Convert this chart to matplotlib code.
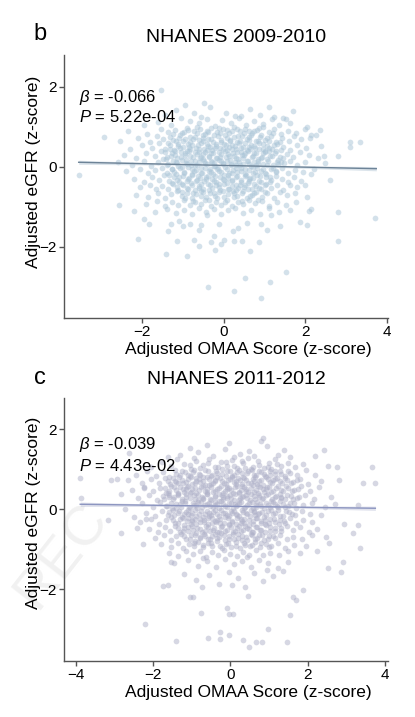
import numpy as np
import matplotlib
matplotlib.use("Agg")
import matplotlib.pyplot as plt

plt.rcParams['font.family'] = ['Liberation Sans', 'DejaVu Sans']
plt.rcParams['mathtext.fontset'] = 'custom'
plt.rcParams['mathtext.it'] = 'Liberation Sans:italic'
plt.rcParams['mathtext.rm'] = 'Liberation Sans'

# ---- panel b: NHANES 2009-2010 ----
b_title = "NHANES 2009-2010"
b_beta = "-0.066"
b_p = "5.22e-04"
b_fit_x = [-3.56, 3.74]
b_fit_y = [0.11, -0.05]

b_points = [
    # upper sparse
    (-1.53, 1.92), (-0.49, 1.60), (-2.93, 0.75), (-1.18, 1.42), (-0.72, 1.35), (-0.35, 1.48),
    (0.05, 1.33), (0.42, 1.27), (0.88, 1.30), (1.45, 1.22), (-1.45, 1.30), (-0.95, 1.55),
    (0.65, 1.45), (1.12, 1.50), (1.69, 1.39), (1.52, 1.19), (1.23, 1.23),
    (-1.62, 1.12), (-1.30, 1.05), (-1.05, 1.21), (-0.82, 1.14), (-0.60, 1.08), (-0.41, 1.19),
    (-0.22, 1.02), (-0.05, 1.16), (0.18, 1.09), (0.37, 1.22), (0.55, 1.04), (0.74, 1.13),
    (0.97, 1.07), (1.18, 1.18), (1.35, 1.03), (1.62, 1.10), (-1.95, 1.05), (0.28, 1.27),
    (-0.55, 1.25), (2.05, 1.00),
    # 0.8 .. 1.0
    (-2.35, 0.88), (-1.88, 0.82), (-1.55, 0.95), (-1.38, 0.86), (-1.20, 0.92), (-1.02, 0.84),
    (-0.90, 0.97), (-0.74, 0.88), (-0.58, 0.93), (-0.46, 0.82), (-0.31, 0.96), (-0.17, 0.87),
    (-0.02, 0.93), (0.12, 0.83), (0.26, 0.98), (0.40, 0.89), (0.53, 0.95), (0.68, 0.84),
    (0.82, 0.92), (0.95, 0.99), (1.10, 0.86), (1.24, 0.93), (1.40, 0.82), (1.58, 0.90),
    (1.77, 0.85), (1.98, 0.93), (2.25, 0.80), (2.13, 0.79), (2.35, 0.92),
    # 0.6 .. 0.8
    (-2.55, 0.65), (-2.10, 0.72), (-1.80, 0.62), (-1.65, 0.77), (-1.48, 0.68), (-1.33, 0.74),
    (-1.18, 0.63), (-1.07, 0.78), (-0.95, 0.69), (-0.83, 0.61), (-0.70, 0.75), (-0.61, 0.66),
    (-0.50, 0.79), (-0.38, 0.70), (-0.27, 0.62), (-0.15, 0.76), (-0.06, 0.67), (0.04, 0.79),
    (0.15, 0.64), (0.24, 0.73), (0.33, 0.61), (0.45, 0.77), (0.57, 0.68), (0.66, 0.79),
    (0.78, 0.63), (0.89, 0.74), (1.01, 0.66), (1.15, 0.77), (1.28, 0.62), (1.43, 0.71),
    (1.60, 0.65), (1.72, 0.77), (1.90, 0.68), (2.12, 0.72), (3.10, 0.61), (3.34, 0.61),
    (3.10, 0.50),
    # 0.4 .. 0.6
    (-2.30, 0.45), (-2.00, 0.55), (-1.75, 0.47), (-1.60, 0.58), (-1.45, 0.44), (-1.32, 0.53),
    (-1.22, 0.41), (-1.12, 0.57), (-1.00, 0.48), (-0.90, 0.40), (-0.79, 0.55), (-0.68, 0.46),
    (-0.57, 0.59), (-0.48, 0.43), (-0.39, 0.52), (-0.29, 0.41), (-0.20, 0.57), (-0.10, 0.47),
    (0.00, 0.56), (0.09, 0.42), (0.19, 0.53), (0.29, 0.45), (0.38, 0.58), (0.48, 0.49),
    (0.58, 0.41), (0.67, 0.55), (0.77, 0.46), (0.86, 0.58), (0.96, 0.43), (1.07, 0.52),
    (1.19, 0.45), (1.31, 0.57), (1.46, 0.48), (1.62, 0.42), (1.80, 0.54), (2.02, 0.47),
    (2.38, 0.52), (-0.85, 0.50), (-0.35, 0.48), (0.13, 0.50), (0.62, 0.50), (1.12, 0.40),
    # 0.2 .. 0.4
    (-2.45, 0.30), (-2.15, 0.22), (-1.90, 0.35), (-1.70, 0.26), (-1.55, 0.38), (-1.40, 0.24),
    (-1.28, 0.33), (-1.16, 0.21), (-1.05, 0.37), (-0.95, 0.28), (-0.86, 0.39), (-0.76, 0.23),
    (-0.66, 0.32), (-0.55, 0.25), (-0.45, 0.37), (-0.36, 0.27), (-0.26, 0.35), (-0.16, 0.22),
    (-0.07, 0.31), (0.03, 0.38), (0.12, 0.26), (0.22, 0.34), (0.31, 0.21), (0.41, 0.36),
    (0.50, 0.28), (0.60, 0.39), (0.70, 0.24), (0.80, 0.33), (0.91, 0.22), (1.02, 0.36),
    (1.14, 0.27), (1.27, 0.38), (1.39, 0.23), (1.55, 0.32), (1.70, 0.25), (1.88, 0.37),
    (2.10, 0.28), (2.30, 0.21), (2.45, 0.27), (2.81, 0.27), (-0.60, 0.36), (-0.10, 0.24),
    (0.45, 0.30), (0.95, 0.35), (-1.20, 0.30),
    # 0.0 .. 0.2
    (-3.56, -0.21), (-2.60, 0.12), (-2.25, 0.05), (-1.95, 0.15), (-1.78, 0.02), (-1.62, 0.11),
    (-1.50, 0.18), (-1.36, 0.06), (-1.24, 0.14), (-1.13, 0.01), (-1.02, 0.17), (-0.92, 0.08),
    (-0.81, 0.15), (-0.71, 0.03), (-0.62, 0.12), (-0.52, 0.19), (-0.42, 0.06), (-0.32, 0.14),
    (-0.22, 0.02), (-0.12, 0.17), (-0.03, 0.09), (0.07, 0.15), (0.17, 0.04), (0.27, 0.12),
    (0.36, 0.18), (0.46, 0.07), (0.56, 0.15), (0.66, 0.02), (0.75, 0.11), (0.85, 0.18),
    (0.96, 0.06), (1.08, 0.13), (1.20, 0.03), (1.33, 0.16), (1.48, 0.08), (1.63, 0.14),
    (1.80, 0.04), (1.98, 0.11), (2.20, -0.05), (2.48, 0.09), (-0.80, 0.05), (-0.25, 0.10),
    (0.30, 0.03), (0.80, 0.05), (1.40, 0.12),
    # -0.2 .. 0.0
    (-2.40, -0.12), (-2.05, -0.06), (-1.85, -0.17), (-1.68, -0.09), (-1.52, -0.03), (-1.40, -0.15),
    (-1.28, -0.07), (-1.18, -0.19), (-1.07, -0.04), (-0.97, -0.13), (-0.87, -0.02), (-0.77, -0.18),
    (-0.67, -0.08), (-0.57, -0.15), (-0.47, -0.03), (-0.37, -0.11), (-0.27, -0.19), (-0.17, -0.06),
    (-0.07, -0.14), (0.02, -0.02), (0.12, -0.17), (0.22, -0.08), (0.32, -0.14), (0.42, -0.04),
    (0.52, -0.18), (0.62, -0.09), (0.72, -0.15), (0.82, -0.03), (0.92, -0.12), (1.04, -0.19),
    (1.16, -0.07), (1.29, -0.14), (1.43, -0.04), (1.58, -0.16), (1.75, -0.08), (1.95, -0.13),
    (2.15, -0.18),
    # -0.4 .. -0.2
    (-2.20, -0.30), (-1.95, -0.38), (-1.76, -0.25), (-1.60, -0.33), (-1.46, -0.22), (-1.34, -0.36),
    (-1.22, -0.27), (-1.10, -0.39), (-0.99, -0.24), (-0.89, -0.32), (-0.79, -0.21), (-0.69, -0.37),
    (-0.59, -0.28), (-0.49, -0.35), (-0.39, -0.23), (-0.29, -0.31), (-0.19, -0.38), (-0.09, -0.26),
    (0.01, -0.34), (0.11, -0.22), (0.21, -0.37), (0.31, -0.27), (0.41, -0.33), (0.51, -0.24),
    (0.61, -0.36), (0.71, -0.29), (0.81, -0.22), (0.92, -0.38), (1.03, -0.27), (1.15, -0.34),
    (1.28, -0.23), (1.42, -0.31), (1.57, -0.38), (1.72, -0.26), (1.90, -0.35), (2.60, -0.33),
    # -0.6 .. -0.4
    (-2.05, -0.52), (-1.82, -0.45), (-1.66, -0.57), (-1.52, -0.48), (-1.38, -0.55), (-1.25, -0.43),
    (-1.13, -0.58), (-1.01, -0.47), (-0.90, -0.54), (-0.80, -0.42), (-0.70, -0.59), (-0.60, -0.49),
    (-0.50, -0.56), (-0.40, -0.44), (-0.30, -0.53), (-0.20, -0.46), (-0.10, -0.58), (0.00, -0.43),
    (0.10, -0.55), (0.20, -0.48), (0.30, -0.59), (0.40, -0.45), (0.50, -0.52), (0.60, -0.42),
    (0.70, -0.57), (0.80, -0.48), (0.91, -0.55), (1.03, -0.44), (1.16, -0.53), (1.30, -0.47),
    (1.46, -0.58), (1.62, -0.45), (1.80, -0.52), (2.00, -0.47),
    # -0.8 .. -0.6
    (-2.15, -0.70), (-1.85, -0.75), (-1.62, -0.66), (-1.45, -0.78), (-1.30, -0.68), (-1.16, -0.62),
    (-1.03, -0.74), (-0.91, -0.65), (-0.79, -0.79), (-0.67, -0.69), (-0.55, -0.62), (-0.44, -0.76),
    (-0.33, -0.67), (-0.22, -0.73), (-0.11, -0.63), (0.00, -0.77), (0.11, -0.68), (0.22, -0.61),
    (0.33, -0.74), (0.44, -0.66), (0.56, -0.79), (0.68, -0.70), (0.80, -0.63), (0.93, -0.75),
    (1.07, -0.67), (1.22, -0.78), (1.38, -0.64), (1.55, -0.72), (1.75, -0.66), (2.05, -0.77),
    # -1.0 .. -0.8
    (-2.58, -0.96), (-1.90, -0.92), (-1.65, -0.85), (-1.45, -0.97), (-1.28, -0.88), (-1.12, -0.95),
    (-0.97, -0.83), (-0.84, -0.96), (-0.70, -0.87), (-0.57, -0.93), (-0.45, -0.82), (-0.32, -0.98),
    (-0.19, -0.89), (-0.06, -0.95), (0.07, -0.84), (0.20, -0.97), (0.34, -0.88), (0.48, -0.94),
    (0.62, -0.83), (0.77, -0.91), (0.93, -0.86), (1.10, -0.98), (1.30, -0.89), (1.52, -0.95),
    (1.78, -0.87),
    # -1.2 .. -1.0
    (-2.21, -1.11), (-1.70, -1.12), (-1.40, -1.05), (-1.18, -1.16), (-0.98, -1.08), (-0.78, -1.19),
    (-0.60, -1.03), (-0.44, -1.14), (-0.25, -1.06), (-0.08, -1.17), (0.10, -1.09), (0.28, -1.02),
    (0.46, -1.15), (0.66, -1.07), (0.88, -1.18), (1.10, -1.04), (1.35, -1.13), (1.62, -1.08),
    (2.10, -1.11), (2.15, -1.06), (2.80, -1.12), (1.16, -1.21), (-0.41, -1.21),
    # lower tail
    (3.70, -1.27), (-1.95, -1.31), (-1.84, -1.43), (-1.36, -1.60), (-1.29, -1.42), (-1.09, -1.35),
    (-1.00, -1.47), (-0.84, -1.43), (-0.62, -1.58), (-0.55, -1.45), (-0.12, -1.42), (0.22, -1.60),
    (0.34, -1.52), (0.57, -1.40), (0.90, -1.42), (1.06, -1.57), (1.39, -1.48), (1.86, -1.38),
    (2.05, -1.45), (-2.10, -1.81), (-1.16, -1.85), (-0.72, -1.83), (-0.60, -1.98), (-0.31, -1.87),
    (-0.25, -1.72), (-0.21, -2.07), (-0.06, -1.92), (0.00, -1.82), (0.26, -1.86), (0.44, -1.85),
    (0.64, -2.11), (0.86, -1.88), (2.80, -1.86), (-1.42, -2.19), (-0.90, -2.23),
    (0.51, -2.77), (1.52, -2.63), (-0.39, -3.00), (0.25, -3.10), (0.90, -3.29), (1.14, -2.89),
]

# dense middle of the b cloud
b_core = [
    (-0.88, 0.91), (-0.66, 0.99), (-0.41, 0.90), (-0.12, 0.97), (0.08, 0.91), (0.33, 0.94),
    (0.61, 0.90), (0.86, 0.97),
    (-1.25, 0.82), (-1.10, 0.71), (-0.97, 0.86), (-0.84, 0.75), (-0.65, 0.83), (-0.52, 0.72),
    (-0.40, 0.87), (-0.24, 0.78), (-0.09, 0.85), (0.08, 0.72), (0.20, 0.88), (0.35, 0.76),
    (0.50, 0.84), (0.61, 0.73), (0.75, 0.89), (0.92, 0.80), (1.05, 0.71), (1.20, 0.85),
    (-1.38, 0.60), (-1.25, 0.66), (-1.13, 0.52), (-1.01, 0.63), (-0.88, 0.56), (-0.75, 0.68),
    (-0.63, 0.53), (-0.52, 0.64), (-0.42, 0.57), (-0.31, 0.68), (-0.20, 0.51), (-0.08, 0.62),
    (0.05, 0.55), (0.16, 0.67), (0.27, 0.52), (0.39, 0.64), (0.52, 0.58), (0.62, 0.66),
    (0.73, 0.52), (0.84, 0.63), (0.96, 0.56), (1.10, 0.64), (1.24, 0.53), (1.38, 0.62),
    (-1.45, 0.36), (-1.32, 0.45), (-1.20, 0.38), (-1.08, 0.47), (-0.96, 0.33), (-0.83, 0.44),
    (-0.71, 0.36), (-0.60, 0.45), (-0.50, 0.31), (-0.41, 0.42), (-0.31, 0.34), (-0.21, 0.46),
    (-0.12, 0.36), (-0.01, 0.44), (0.10, 0.32), (0.20, 0.43), (0.32, 0.37), (0.43, 0.46),
    (0.53, 0.35), (0.65, 0.44), (0.75, 0.33), (0.87, 0.45), (1.00, 0.38), (1.12, 0.47),
    (1.25, 0.33), (1.40, 0.42),
    (-1.42, 0.19), (-1.30, 0.26), (-1.18, 0.12), (-1.06, 0.23), (-0.93, 0.16), (-0.82, 0.27),
    (-0.70, 0.13), (-0.58, 0.22), (-0.48, 0.14), (-0.37, 0.25), (-0.28, 0.11), (-0.18, 0.21),
    (-0.06, 0.13), (0.05, 0.24), (0.16, 0.17), (0.26, 0.26), (0.38, 0.12), (0.48, 0.22),
    (0.59, 0.14), (0.71, 0.26), (0.83, 0.13), (0.94, 0.24), (1.06, 0.18), (1.18, 0.26),
    (1.30, 0.12), (1.44, 0.21),
    (-1.40, 0.03), (-1.26, -0.05), (-1.14, 0.08), (-1.02, -0.02), (-0.90, 0.06), (-0.78, -0.06),
    (-0.66, 0.04), (-0.55, -0.03), (-0.45, 0.08), (-0.35, -0.07), (-0.24, 0.02), (-0.14, -0.04),
    (-0.03, 0.06), (0.08, -0.05), (0.18, 0.07), (0.29, -0.03), (0.40, 0.05), (0.51, -0.07),
    (0.61, 0.06), (0.72, -0.02), (0.84, 0.07), (0.95, -0.05), (1.07, 0.03), (1.20, -0.04),
    (1.33, 0.06),
    (-1.35, -0.22), (-1.22, -0.13), (-1.10, -0.26), (-0.98, -0.17), (-0.86, -0.28), (-0.74, -0.12),
    (-0.63, -0.23), (-0.53, -0.16), (-0.43, -0.27), (-0.32, -0.14), (-0.22, -0.24), (-0.11, -0.12),
    (0.00, -0.22), (0.11, -0.29), (0.21, -0.15), (0.32, -0.24), (0.43, -0.11), (0.54, -0.22),
    (0.65, -0.29), (0.76, -0.13), (0.88, -0.24), (1.00, -0.16), (1.13, -0.27), (1.27, -0.12),
    (-1.28, -0.42), (-1.15, -0.33), (-1.02, -0.44), (-0.90, -0.37), (-0.78, -0.47), (-0.66, -0.34),
    (-0.55, -0.43), (-0.44, -0.32), (-0.34, -0.46), (-0.23, -0.35), (-0.13, -0.44), (-0.02, -0.31),
    (0.09, -0.42), (0.19, -0.33), (0.30, -0.45), (0.41, -0.38), (0.52, -0.47), (0.63, -0.32),
    (0.75, -0.43), (0.87, -0.35), (1.00, -0.46), (1.14, -0.38),
    (-1.15, -0.52), (-1.02, -0.63), (-0.88, -0.57), (-0.75, -0.66), (-0.62, -0.54), (-0.50, -0.64),
    (-0.37, -0.58), (-0.25, -0.67), (-0.13, -0.52), (-0.01, -0.61), (0.12, -0.55), (0.24, -0.66),
    (0.36, -0.53), (0.48, -0.62), (0.60, -0.56), (0.73, -0.67), (0.86, -0.54), (1.00, -0.63),
    (-0.95, -0.78), (-0.75, -0.86), (-0.55, -0.73), (-0.36, -0.84), (-0.16, -0.78), (0.04, -0.88),
    (0.24, -0.76), (0.44, -0.85), (0.64, -0.74), (0.84, -0.82),
]

# ---- panel c: NHANES 2011-2012 ----
c_title = "NHANES 2011-2012"
c_beta = "-0.039"
c_p = "4.43e-02"
c_fit_x = [-3.89, 3.75]
c_fit_y = [0.12, 0.02]

c_points = [
    # upper sparse
    (-3.89, 0.78), (-3.10, 0.73), (-2.95, 0.75), (-2.64, 1.39), (-1.04, 1.52), (-0.04, 1.64),
    (0.84, 1.77), (2.18, 1.33), (2.41, 1.48), (2.53, 1.08), (2.75, 1.06), (2.82, 0.73),
    (3.66, 1.06), (3.75, 0.66), (3.43, 0.66),
    (-1.30, 1.35), (-0.85, 1.42), (-0.45, 1.33), (-0.15, 1.50), (0.25, 1.38), (0.48, 1.46),
    (0.62, 1.33), (0.95, 1.58), (1.22, 1.36), (1.55, 1.30), (-0.60, 1.60), (0.10, 1.31),
    (1.38, 1.48), (-1.62, 1.31), (0.78, 1.70),
    # 1.0 .. 1.3
    (-2.05, 1.05), (-1.78, 1.18), (-1.55, 1.08), (-1.38, 1.24), (-1.20, 1.12), (-1.02, 1.01),
    (-0.88, 1.20), (-0.72, 1.09), (-0.55, 1.26), (-0.40, 1.04), (-0.25, 1.17), (-0.10, 1.08),
    (0.05, 1.23), (0.18, 1.02), (0.32, 1.14), (0.45, 1.27), (0.58, 1.06), (0.72, 1.19),
    (0.86, 1.03), (1.00, 1.15), (1.15, 1.25), (1.30, 1.07), (1.48, 1.16), (1.68, 1.04),
    (1.88, 1.13), (-0.95, 1.28), (0.38, 1.03), (1.05, 1.00),
    # 0.8 .. 1.0
    (-2.45, 0.85), (-2.15, 0.95), (-1.92, 0.83), (-1.74, 0.92), (-1.58, 0.81), (-1.44, 0.97),
    (-1.31, 0.86), (-1.18, 0.93), (-1.06, 0.82), (-0.94, 0.98), (-0.82, 0.88), (-0.70, 0.81),
    (-0.59, 0.95), (-0.47, 0.84), (-0.35, 0.91), (-0.23, 0.99), (-0.12, 0.83), (-0.01, 0.94),
    (0.10, 0.86), (0.22, 0.97), (0.33, 0.81), (0.44, 0.90), (0.56, 0.98), (0.67, 0.84),
    (0.78, 0.93), (0.90, 0.82), (1.02, 0.96), (1.14, 0.87), (1.27, 0.94), (1.40, 0.83),
    (1.55, 0.91), (1.72, 0.86), (1.95, 0.97), (2.20, 0.84),
    # 0.6 .. 0.8
    (-2.65, 0.72), (-2.30, 0.64), (-2.05, 0.76), (-1.85, 0.66), (-1.70, 0.78), (-1.56, 0.63),
    (-1.44, 0.71), (-1.33, 0.79), (-1.22, 0.65), (-1.11, 0.74), (-1.00, 0.62), (-0.89, 0.77),
    (-0.78, 0.68), (-0.67, 0.61), (-0.56, 0.75), (-0.45, 0.66), (-0.34, 0.79), (-0.23, 0.70),
    (-0.12, 0.62), (-0.02, 0.76), (0.09, 0.67), (0.19, 0.78), (0.30, 0.63), (0.41, 0.72),
    (0.52, 0.65), (0.63, 0.79), (0.74, 0.69), (0.85, 0.61), (0.96, 0.75), (1.08, 0.66),
    (1.20, 0.78), (1.33, 0.64), (1.47, 0.73), (1.62, 0.67), (1.80, 0.76), (2.00, 0.63),
    (2.35, 0.70), (-0.90, 0.70), (-0.40, 0.72), (0.15, 0.71), (0.60, 0.70), (1.10, 0.72),
    (-1.40, 0.68),
    # 0.4 .. 0.6
    (-2.83, 0.37), (-2.23, 0.52), (-2.55, 0.48), (-2.25, 0.56), (-2.00, 0.44), (-1.82, 0.53),
    (-1.67, 0.41), (-1.54, 0.57), (-1.42, 0.47), (-1.31, 0.55), (-1.20, 0.43), (-1.09, 0.58),
    (-0.99, 0.49), (-0.88, 0.41), (-0.77, 0.56), (-0.67, 0.46), (-0.56, 0.59), (-0.46, 0.42),
    (-0.35, 0.51), (-0.25, 0.58), (-0.14, 0.44), (-0.04, 0.53), (0.06, 0.41), (0.16, 0.57),
    (0.26, 0.47), (0.36, 0.55), (0.46, 0.43), (0.57, 0.59), (0.67, 0.48), (0.77, 0.56),
    (0.88, 0.42), (0.99, 0.54), (1.10, 0.46), (1.22, 0.58), (1.35, 0.44), (1.49, 0.52),
    (1.64, 0.47), (1.82, 0.57), (2.05, 0.45), (2.30, 0.54), (-0.60, 0.50), (-0.10, 0.49),
    (0.40, 0.50), (0.92, 0.50), (-1.15, 0.51),
    # 0.2 .. 0.4
    (-3.87, 0.27), (-2.40, 0.27), (-2.12, 0.36), (-1.90, 0.23), (-1.75, 0.32), (-1.61, 0.39),
    (-1.49, 0.25), (-1.37, 0.34), (-1.26, 0.21), (-1.15, 0.37), (-1.04, 0.28), (-0.94, 0.35),
    (-0.83, 0.22), (-0.73, 0.31), (-0.62, 0.38), (-0.52, 0.24), (-0.41, 0.33), (-0.31, 0.21),
    (-0.21, 0.36), (-0.10, 0.27), (0.00, 0.34), (0.10, 0.22), (0.21, 0.39), (0.31, 0.29),
    (0.41, 0.36), (0.51, 0.23), (0.62, 0.32), (0.72, 0.39), (0.82, 0.26), (0.93, 0.35),
    (1.04, 0.21), (1.16, 0.31), (1.29, 0.38), (1.42, 0.24), (1.57, 0.33), (1.73, 0.27),
    (1.92, 0.36), (2.15, 0.25), (2.60, 0.30), (-0.70, 0.25), (-0.20, 0.30), (0.25, 0.27),
    (0.75, 0.30), (1.30, 0.29), (-1.60, 0.30),
    # 0.0 .. 0.2
    (-2.73, 0.00), (-2.30, 0.14), (-2.00, 0.05), (-1.82, 0.17), (-1.66, 0.08), (-1.53, 0.15),
    (-1.41, 0.02), (-1.30, 0.12), (-1.19, 0.19), (-1.08, 0.06), (-0.97, 0.14), (-0.87, 0.03),
    (-0.76, 0.18), (-0.66, 0.09), (-0.55, 0.16), (-0.45, 0.04), (-0.34, 0.13), (-0.24, 0.19),
    (-0.13, 0.07), (-0.03, 0.15), (0.07, 0.02), (0.18, 0.11), (0.28, 0.18), (0.38, 0.06),
    (0.49, 0.14), (0.59, 0.03), (0.69, 0.17), (0.80, 0.08), (0.91, 0.15), (1.02, 0.04),
    (1.14, 0.12), (1.27, 0.19), (1.40, 0.06), (1.55, 0.14), (1.70, 0.03), (1.88, 0.11),
    (2.10, 0.16), (2.45, 0.05), (2.70, 0.12), (3.30, 0.10), (-0.90, 0.10), (-0.40, 0.10),
    (0.12, 0.13), (0.65, 0.10), (1.20, 0.08),
    # -0.2 .. 0.0
    (-3.16, -0.28), (-2.49, -0.19), (-2.20, -0.26), (-2.20, -0.10), (-1.95, -0.18), (-1.77, -0.05),
    (-1.62, -0.14), (-1.49, -0.02), (-1.37, -0.11), (-1.25, -0.19), (-1.14, -0.07), (-1.03, -0.15),
    (-0.92, -0.03), (-0.82, -0.12), (-0.71, -0.19), (-0.61, -0.06), (-0.50, -0.14), (-0.40, -0.02),
    (-0.29, -0.17), (-0.19, -0.09), (-0.08, -0.15), (0.02, -0.04), (0.13, -0.12), (0.23, -0.18),
    (0.33, -0.07), (0.44, -0.13), (0.54, -0.02), (0.64, -0.16), (0.75, -0.09), (0.86, -0.19),
    (0.97, -0.05), (1.09, -0.13), (1.22, -0.03), (1.36, -0.17), (1.51, -0.08), (1.67, -0.14),
    (1.85, -0.04), (2.05, -0.12), (2.35, -0.16), (-0.55, -0.09), (0.05, -0.10), (0.60, -0.08),
    (-1.10, -0.12),
    # -0.4 .. -0.2
    (-2.42, -0.48), (-2.35, -0.32), (-2.05, -0.25), (-1.84, -0.37), (-1.68, -0.28), (-1.55, -0.21),
    (-1.43, -0.34), (-1.32, -0.26), (-1.21, -0.39), (-1.10, -0.23), (-0.99, -0.31), (-0.89, -0.38),
    (-0.78, -0.24), (-0.68, -0.33), (-0.57, -0.22), (-0.47, -0.36), (-0.36, -0.27), (-0.26, -0.34),
    (-0.15, -0.21), (-0.05, -0.38), (0.05, -0.29), (0.16, -0.23), (0.26, -0.35), (0.36, -0.26),
    (0.47, -0.39), (0.57, -0.31), (0.67, -0.22), (0.78, -0.36), (0.89, -0.28), (1.00, -0.34),
    (1.12, -0.24), (1.25, -0.37), (1.39, -0.29), (1.54, -0.22), (1.70, -0.35), (1.88, -0.27),
    (2.10, -0.33), (2.95, -0.38), (3.30, -0.40), (-0.40, -0.30), (0.30, -0.31), (-1.00, -0.27),
    # -0.6 .. -0.4
    (-2.83, -0.61), (-2.10, -0.50), (-1.88, -0.58), (-1.70, -0.45), (-1.56, -0.54), (-1.44, -0.42),
    (-1.32, -0.57), (-1.21, -0.48), (-1.10, -0.55), (-0.99, -0.43), (-0.88, -0.59), (-0.78, -0.49),
    (-0.67, -0.56), (-0.57, -0.44), (-0.46, -0.52), (-0.36, -0.58), (-0.25, -0.46), (-0.15, -0.54),
    (-0.05, -0.41), (0.06, -0.57), (0.16, -0.47), (0.27, -0.55), (0.37, -0.43), (0.48, -0.51),
    (0.58, -0.58), (0.69, -0.45), (0.80, -0.53), (0.91, -0.41), (1.03, -0.56), (1.16, -0.47),
    (1.30, -0.55), (1.45, -0.43), (1.62, -0.52), (1.80, -0.46), (2.02, -0.57), (2.25, -0.49),
    (3.17, -0.61), (2.48, -0.70),
    # -0.8 .. -0.6
    (-1.95, -0.72), (-1.72, -0.65), (-1.55, -0.77), (-1.40, -0.68), (-1.27, -0.62), (-1.15, -0.75),
    (-1.03, -0.66), (-0.91, -0.79), (-0.80, -0.69), (-0.69, -0.63), (-0.58, -0.76), (-0.47, -0.67),
    (-0.36, -0.73), (-0.25, -0.61), (-0.14, -0.78), (-0.03, -0.68), (0.08, -0.74), (0.19, -0.63),
    (0.30, -0.77), (0.41, -0.69), (0.52, -0.62), (0.63, -0.75), (0.75, -0.66), (0.87, -0.78),
    (1.00, -0.68), (1.14, -0.73), (1.29, -0.64), (1.45, -0.76), (1.63, -0.69), (1.85, -0.74),
    (2.10, -0.66),
    # -1.0 .. -0.8
    (-2.27, -0.88), (-1.80, -0.88), (-1.55, -0.95), (-1.37, -0.84), (-1.22, -0.97), (-1.08, -0.87),
    (-0.95, -0.93), (-0.83, -0.82), (-0.71, -0.96), (-0.59, -0.86), (-0.47, -0.92), (-0.35, -0.81),
    (-0.23, -0.98), (-0.11, -0.88), (0.01, -0.94), (0.13, -0.83), (0.25, -0.97), (0.37, -0.89),
    (0.50, -0.93), (0.63, -0.82), (0.77, -0.95), (0.91, -0.87), (1.06, -0.92), (1.23, -0.84),
    (1.42, -0.97), (1.65, -0.89), (1.95, -0.93), (2.56, -0.86), (3.35, -0.97), (2.25, -1.04),
    # -1.2 .. -1.0
    (-1.60, -1.10), (-1.35, -1.17), (-1.15, -1.04), (-0.97, -1.13), (-0.80, -1.06), (-0.64, -1.19),
    (-0.48, -1.08), (-0.32, -1.15), (-0.16, -1.03), (0.00, -1.12), (0.16, -1.18), (0.32, -1.07),
    (0.48, -1.14), (0.65, -1.02), (0.83, -1.16), (1.02, -1.09), (1.25, -1.14), (1.50, -1.05),
    (1.80, -1.11),
    # -1.5 .. -1.2
    (-1.54, -1.32), (-1.45, -1.35), (-1.10, -1.28), (-0.85, -1.42), (-0.60, -1.31), (-0.38, -1.46),
    (-0.15, -1.25), (0.08, -1.38), (0.30, -1.30), (0.52, -1.44), (0.75, -1.27), (0.98, -1.36),
    (1.22, -1.48), (1.48, -1.33), (-0.70, -1.22), (0.42, -1.21), (2.52, -1.48), (2.87, -1.57),
    (2.91, -1.32),
    # lower tail
    (-1.20, -1.62), (-0.90, -1.78), (-0.55, -1.65), (-0.30, -1.88), (-0.05, -1.58), (0.20, -1.72),
    (0.38, -1.95), (0.60, -1.60), (0.85, -1.80), (1.10, -1.68), (1.35, -1.55), (-0.75, -1.95),
    (0.05, -1.90), (0.95, -1.52), (-1.75, -1.93), (-1.62, -1.90), (1.88, -2.03), (1.62, -2.20),
    (1.70, -2.27), (-1.06, -2.21), (-0.98, -2.21), (0.45, -2.18), (-0.76, -2.59), (-0.09, -2.48),
    (-0.05, -2.62), (0.06, -2.62), (1.53, -2.65), (-2.21, -2.88), (-1.42, -3.29), (-0.59, -3.23),
    (-0.28, -3.26), (-0.26, -3.07), (-0.03, -3.15), (0.32, -3.28), (0.49, -3.46), (0.67, -3.32),
    (0.82, -3.32), (0.98, -3.01), (1.46, -3.33),
]

# dense middle of the c cloud
c_core = [
    (-1.05, 1.10), (-0.80, 1.03), (-0.58, 1.14), (-0.33, 1.06), (-0.12, 1.17), (0.10, 1.08),
    (0.30, 1.19), (0.52, 1.01), (0.75, 1.10), (0.98, 1.06), (1.20, 1.12),
    (-1.40, 0.88), (-1.25, 0.95), (-1.10, 0.84), (-0.96, 0.92), (-0.80, 0.86), (-0.65, 0.97),
    (-0.50, 0.83), (-0.37, 0.94), (-0.22, 0.87), (-0.08, 0.96), (0.05, 0.82), (0.17, 0.92),
    (0.30, 0.89), (0.46, 0.96), (0.60, 0.85), (0.73, 0.95), (0.87, 0.88), (1.01, 0.84),
    (1.15, 0.95), (1.30, 0.87), (1.48, 0.96),
    (-1.62, 0.70), (-1.50, 0.77), (-1.37, 0.64), (-1.26, 0.73), (-1.14, 0.67), (-1.03, 0.79),
    (-0.92, 0.64), (-0.81, 0.74), (-0.70, 0.70), (-0.60, 0.79), (-0.50, 0.62), (-0.39, 0.69),
    (-0.28, 0.77), (-0.17, 0.64), (-0.07, 0.72), (0.04, 0.79), (0.14, 0.63), (0.25, 0.72),
    (0.35, 0.78), (0.46, 0.66), (0.57, 0.74), (0.68, 0.62), (0.80, 0.73), (0.91, 0.79),
    (1.02, 0.68), (1.14, 0.74), (1.27, 0.70), (1.41, 0.78), (1.56, 0.64), (1.72, 0.72),
    (-1.70, 0.52), (-1.58, 0.46), (-1.46, 0.55), (-1.35, 0.41), (-1.24, 0.50), (-1.13, 0.56),
    (-1.03, 0.43), (-0.93, 0.53), (-0.82, 0.47), (-0.72, 0.57), (-0.61, 0.42), (-0.51, 0.55),
    (-0.40, 0.45), (-0.30, 0.53), (-0.19, 0.41), (-0.09, 0.56), (0.01, 0.47), (0.11, 0.54),
    (0.21, 0.42), (0.31, 0.58), (0.41, 0.46), (0.52, 0.53), (0.62, 0.43), (0.72, 0.57),
    (0.83, 0.49), (0.94, 0.56), (1.05, 0.42), (1.17, 0.53), (1.30, 0.48), (1.43, 0.57),
    (1.58, 0.44), (1.75, 0.51),
    (-1.72, 0.26), (-1.60, 0.35), (-1.47, 0.29), (-1.36, 0.38), (-1.25, 0.24), (-1.14, 0.31),
    (-1.04, 0.39), (-0.93, 0.25), (-0.83, 0.34), (-0.72, 0.28), (-0.62, 0.37), (-0.51, 0.22),
    (-0.41, 0.29), (-0.30, 0.38), (-0.20, 0.24), (-0.09, 0.33), (0.01, 0.27), (0.12, 0.37),
    (0.22, 0.23), (0.32, 0.32), (0.43, 0.28), (0.53, 0.37), (0.64, 0.24), (0.74, 0.34),
    (0.85, 0.27), (0.96, 0.38), (1.07, 0.25), (1.19, 0.33), (1.32, 0.28), (1.46, 0.36),
    (1.61, 0.24), (1.78, 0.31),
    (-1.65, 0.08), (-1.52, 0.02), (-1.40, 0.13), (-1.28, 0.06), (-1.17, 0.16), (-1.06, 0.03),
    (-0.95, 0.11), (-0.84, 0.17), (-0.73, 0.04), (-0.62, 0.12), (-0.52, 0.08), (-0.41, 0.17),
    (-0.30, 0.03), (-0.20, 0.12), (-0.09, 0.05), (0.02, 0.16), (0.13, 0.07), (0.23, 0.14),
    (0.34, 0.02), (0.44, 0.11), (0.55, 0.18), (0.66, 0.05), (0.76, 0.13), (0.87, 0.03),
    (0.98, 0.11), (1.10, 0.17), (1.22, 0.04), (1.35, 0.13), (1.49, 0.07), (1.65, 0.16),
    (-1.58, -0.08), (-1.45, -0.16), (-1.33, -0.04), (-1.21, -0.13), (-1.10, -0.02), (-0.99, -0.09),
    (-0.88, -0.17), (-0.77, -0.05), (-0.66, -0.12), (-0.56, -0.18), (-0.45, -0.07), (-0.34, -0.13),
    (-0.24, -0.03), (-0.13, -0.11), (-0.03, -0.18), (0.08, -0.06), (0.18, -0.14), (0.29, -0.02),
    (0.39, -0.09), (0.50, -0.17), (0.60, -0.04), (0.71, -0.13), (0.82, -0.07), (0.93, -0.15),
    (1.04, -0.03), (1.16, -0.10), (1.29, -0.18), (1.43, -0.06), (1.58, -0.12),
    (-1.48, -0.27), (-1.36, -0.35), (-1.24, -0.22), (-1.13, -0.31), (-1.02, -0.37), (-0.91, -0.24),
    (-0.80, -0.32), (-0.69, -0.27), (-0.58, -0.38), (-0.48, -0.23), (-0.37, -0.33), (-0.27, -0.26),
    (-0.16, -0.36), (-0.06, -0.22), (0.05, -0.32), (0.15, -0.38), (0.26, -0.25), (0.36, -0.34),
    (0.47, -0.28), (0.57, -0.37), (0.68, -0.23), (0.79, -0.31), (0.90, -0.37), (1.02, -0.25),
    (1.14, -0.33), (1.28, -0.27), (1.42, -0.36),
    (-1.35, -0.48), (-1.22, -0.56), (-1.10, -0.44), (-0.98, -0.52), (-0.86, -0.47), (-0.75, -0.58),
    (-0.64, -0.43), (-0.53, -0.54), (-0.42, -0.48), (-0.31, -0.57), (-0.21, -0.42), (-0.10, -0.52),
    (0.01, -0.46), (0.12, -0.56), (0.22, -0.43), (0.33, -0.53), (0.44, -0.47), (0.55, -0.57),
    (0.66, -0.44), (0.77, -0.52), (0.89, -0.58), (1.02, -0.45), (1.16, -0.54), (1.32, -0.48),
    (-1.20, -0.68), (-1.05, -0.74), (-0.92, -0.64), (-0.79, -0.72), (-0.66, -0.67), (-0.54, -0.76),
    (-0.41, -0.63), (-0.29, -0.71), (-0.17, -0.66), (-0.05, -0.75), (0.07, -0.63), (0.19, -0.72),
    (0.31, -0.67), (0.43, -0.77), (0.56, -0.64), (0.69, -0.73), (0.82, -0.65), (0.96, -0.76),
    (1.10, -0.67),
    (-0.95, -0.85), (-0.72, -0.91), (-0.50, -0.84), (-0.28, -0.92), (-0.07, -0.86), (0.14, -0.93),
    (0.35, -0.85), (0.56, -0.91), (0.78, -0.86), (1.00, -0.94),
]

panels = [
    dict(label="b", title=b_title, beta=b_beta, p=b_p, pts=b_points + b_core,
         fx=b_fit_x, fy=b_fit_y,
         xlim=(-3.92, 4.03), ylim=(-3.78, 2.79), xticks=[-2, 0, 2, 4],
         rect=[0.1542, 0.5565, 0.781, 0.3668], color="#a9c4d7", line="#6d8397",
         band="#b9cad8", ty=0.948, lab_y=0.952, ylab_y=0.555, xlab_y=-0.092,
         ann_y=(0.84, 0.765)),
    dict(label="c", title=c_title, beta=c_beta, p=c_p, pts=c_points + c_core,
         fx=c_fit_x, fy=c_fit_y,
         xlim=(-4.31, 4.08), ylim=(-3.80, 2.77), xticks=[-4, -2, 0, 2, 4],
         rect=[0.1542, 0.0781, 0.781, 0.3664], color="#aeb0c8", line="#8c95c0",
         band="#c3c7dc", ty=0.4714, lab_y=0.4727, ylab_y=0.565, xlab_y=-0.091,
         ann_y=(0.825, 0.742)),
]

fig = plt.figure(figsize=(4.15, 7.17), dpi=100)

# faint watermark behind panel c
fig.text(0.15, 0.225, "REC", fontsize=40, color="#f1f1f1", rotation=52,
         ha="center", va="center", zorder=-5)

for pn in panels:
    ax = fig.add_axes(pn["rect"])
    ax.set_facecolor("none")
    xs = np.array([q[0] for q in pn["pts"]])
    ys = np.array([q[1] for q in pn["pts"]])
    ax.scatter(xs, ys, s=17, color=pn["color"], alpha=0.5, linewidths=0, zorder=2)

    # regression line with its confidence band
    fx = np.linspace(pn["fx"][0], pn["fx"][1], 100)
    slope = (pn["fy"][1] - pn["fy"][0]) / (pn["fx"][1] - pn["fx"][0])
    fy = pn["fy"][0] + slope * (fx - pn["fx"][0])
    hw = np.sqrt(0.012 ** 2 + (0.014 * fx) ** 2)
    ax.fill_between(fx, fy - hw, fy + hw, color=pn["band"], alpha=0.5, linewidth=0, zorder=3)
    ax.plot(fx, fy, color=pn["line"], lw=1.0, zorder=4)

    ax.set_xlim(pn["xlim"])
    ax.set_ylim(pn["ylim"])
    ax.set_xticks(pn["xticks"])
    ax.set_yticks([-2, 0, 2])
    for side in ["top", "right"]:
        ax.spines[side].set_visible(False)
    for side in ["left", "bottom"]:
        ax.spines[side].set_color("#555555")
        ax.spines[side].set_linewidth(1.0)
    ax.tick_params(length=3.5, width=1.0, color="#555555", labelsize=11, pad=1.5)

    ax.set_xlabel("Adjusted OMAA Score (z-score)", fontsize=12.5)
    ax.set_ylabel("Adjusted eGFR (z-score)", fontsize=12.5)
    ax.xaxis.set_label_coords(0.568, pn["xlab_y"])
    ax.yaxis.set_label_coords(-0.072, pn["ylab_y"])

    ax.text(0.046, pn["ann_y"][0], r"$\beta$ = " + pn["beta"],
            transform=ax.transAxes, fontsize=12, va="center", ha="left")
    ax.text(0.046, pn["ann_y"][1], r"$P$ = " + pn["p"],
            transform=ax.transAxes, fontsize=12, va="center", ha="left")

    fig.text(0.569, pn["ty"], pn["title"], fontsize=14, ha="center", va="center")
    fig.text(0.097, pn["lab_y"], pn["label"], fontsize=17, ha="center", va="center")

fig.savefig("out.png", dpi=100)
